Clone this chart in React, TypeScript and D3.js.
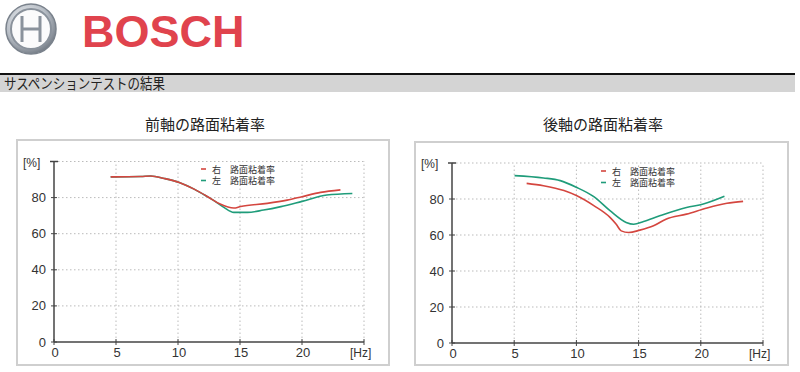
import React from "react";
import * as d3 from "d3";

const xTicks = [0, 5, 10, 15, 20];
const yTicks = [0, 20, 40, 60, 80];
const legendLabels = ["右　路面粘着率", "左　路面粘着率"];
const titles = ["前軸の路面粘着率", "後軸の路面粘着率"];

const frontRightHz = [4.57, 7.0, 7.8, 8.9, 10.1, 11.3, 12.4, 13.4, 14.5, 15.05, 17.2, 18.8, 20.0, 21.5, 23.1];
const frontRightVal = [91.5, 91.7, 92.0, 90.6, 88.4, 84.7, 80.5, 76.4, 74.2, 75.1, 76.8, 78.6, 80.5, 82.9, 84.3];
const frontLeftHz = [4.57, 7.0, 7.8, 8.9, 10.1, 11.3, 12.3, 12.9, 13.7, 14.5, 15.6, 16.9, 18.3, 20.0, 22.0, 24.06];
const frontLeftVal = [91.5, 91.7, 92.0, 90.6, 88.4, 84.7, 80.8, 78.3, 74.6, 71.8, 71.8, 73.1, 75.0, 77.9, 81.4, 82.3];

const rearRightHz = [6.0, 7.35, 9.0, 10.0, 11.4, 12.7, 13.2, 13.6, 14.2, 15.1, 16.2, 17.2, 18.85, 20.5, 22.1, 23.4];
const rearRightVal = [88.7, 87.4, 84.7, 81.9, 76.3, 69.8, 66.0, 62.3, 61.4, 62.7, 65.1, 68.8, 71.6, 75.0, 77.6, 78.7];
const rearLeftHz = [5.03, 7.35, 8.7, 10.0, 11.4, 12.7, 14.0, 14.6, 15.4, 16.7, 18.85, 20.2, 21.9];
const rearLeftVal = [93.0, 91.7, 90.2, 86.5, 81.3, 73.5, 67.0, 66.0, 67.5, 70.7, 75.3, 77.2, 81.5];

const RED = "#d4463f";
const GREEN = "#1f9c7a";

const zip = (xs: number[], ys: number[]) => xs.map((x, i) => [x, ys[i]] as [number, number]);

type PanelProps = {
  box: [number, number, number, number];
  xr: [number, number];
  yr: [number, number];
  title: string;
  titleX: number;
  legendX: number;
  legendY: number;
  right: [number, number][];
  left: [number, number][];
};

function Panel(p: PanelProps) {
  const x = d3.scaleLinear().domain([0, 25]).range(p.xr);
  const y = d3.scaleLinear().domain([0, 100]).range(p.yr);
  const line = d3
    .line<[number, number]>()
    .x((d) => x(d[0]))
    .y((d) => y(d[1]))
    .curve(d3.curveMonotoneX);
  const [bx, by, bw, bh] = p.box;
  const num = "'Liberation Sans', Arial, sans-serif";
  const jp = "'Noto Sans CJK JP', sans-serif";
  return (
    <g>
      <text x={p.titleX} y={130} textAnchor="middle" fontFamily={jp} fontSize={15} fill="#222">
        {p.title}
      </text>
      <rect x={bx} y={by} width={bw} height={bh} fill="#fff" stroke="#cfcfcf" strokeWidth={2} />
      {[5, 10, 15, 20, 25].map((t) => (
        <line key={"gx" + t} x1={x(t)} x2={x(t)} y1={y(0)} y2={y(100)} stroke="#bbb" strokeWidth={1} strokeDasharray="1.5,2.5" />
      ))}
      {[20, 40, 60, 80, 100].map((t) => (
        <line key={"gy" + t} x1={x(0)} x2={x(25)} y1={y(t)} y2={y(t)} stroke="#bbb" strokeWidth={1} strokeDasharray="1.5,2.5" />
      ))}
      <line x1={x(0)} x2={x(0)} y1={y(0)} y2={y(100)} stroke="#444" strokeWidth={1.5} />
      <line x1={x(0) - 4} x2={x(0) + 4} y1={y(100)} y2={y(100)} stroke="#444" strokeWidth={1.5} />
      <line x1={x(0)} x2={x(25)} y1={y(0)} y2={y(0)} stroke="#444" strokeWidth={1.5} />
      {[...xTicks, 25].map((t) => (
        <line key={"tx" + t} x1={x(t)} x2={x(t)} y1={y(0) - 3} y2={y(0) + 3} stroke="#444" strokeWidth={1} />
      ))}
      {yTicks.map((t) => (
        <line key={"ty" + t} x1={x(0) - 3} x2={x(0) + 3} y1={y(t)} y2={y(t)} stroke="#444" strokeWidth={1} />
      ))}
      {yTicks.map((t) => (
        <text key={"ly" + t} x={x(0) - 8} y={y(t) + 4.5} textAnchor="end" fontFamily={num} fontSize={13} fill="#333">
          {t}
        </text>
      ))}
      {xTicks.map((t) => (
        <text key={"lx" + t} x={x(t) + 1} y={y(0) + 15} textAnchor="middle" fontFamily={num} fontSize={13} fill="#333">
          {t}
        </text>
      ))}
      <text x={x(0) - 31} y={y(100) + 5} fontFamily={num} fontSize={12} fill="#333">[%]</text>
      <text x={x(25) - 14} y={y(0) + 15} fontFamily={num} fontSize={12} fill="#333">[Hz]</text>
      <path d={line(p.left) || ""} fill="none" stroke={GREEN} strokeWidth={1.6} />
      <path d={line(p.right) || ""} fill="none" stroke={RED} strokeWidth={1.6} />
      <line x1={p.legendX} x2={p.legendX + 5} y1={p.legendY} y2={p.legendY} stroke={RED} strokeWidth={1.6} />
      <line x1={p.legendX} x2={p.legendX + 5} y1={p.legendY + 11.5} y2={p.legendY + 11.5} stroke={GREEN} strokeWidth={1.6} />
      <text x={p.legendX + 11} y={p.legendY + 3.5} fontFamily={jp} fontSize={9} fill="#333">{legendLabels[0]}</text>
      <text x={p.legendX + 11} y={p.legendY + 15} fontFamily={jp} fontSize={9} fill="#333">{legendLabels[1]}</text>
    </g>
  );
}

export default function App() {
  return (
    <svg width={800} height={372} style={{ position: "absolute", left: 0, top: 0, background: "#fff" }}>
      <defs>
        <radialGradient id="logoG" cx="40%" cy="35%" r="70%">
          <stop offset="0%" stopColor="#f4f6f8" />
          <stop offset="60%" stopColor="#b8bec6" />
          <stop offset="100%" stopColor="#6e7680" />
        </radialGradient>
      </defs>
      <rect x={0} y={0} width={800} height={372} fill="#fff" />
      {/* logo */}
      <circle cx={31} cy={29} r={25} fill="url(#logoG)" stroke="#7a828c" strokeWidth={1.5} />
      <circle cx={31} cy={29} r={20} fill="#fbfbfc" stroke="#8a929c" strokeWidth={2} />
      <path d="M22,16 L22,42 M40,16 L40,42 M22,29 L40,29" stroke="#8a929c" strokeWidth={3} fill="none" />
      <text x={82} y={47} fontFamily="'Liberation Sans', Arial, sans-serif" fontWeight="bold" fontSize={45} fill="#e0434d">
        BOSCH
      </text>
      {/* section header */}
      <rect x={0} y={75} width={795} height={17} fill="#d4d4d4" />
      <line x1={0} x2={795} y1={74} y2={74} stroke="#111" strokeWidth={2} />
      <text x={4} y={89} fontFamily="'Noto Sans CJK JP', sans-serif" fontSize={14.5} fill="#222" textLength={161} lengthAdjust="spacingAndGlyphs">
        サスペンションテストの結果
      </text>
      <Panel
        box={[17, 140, 372, 225]}
        xr={[54, 364]}
        yr={[342, 161.5]}
        title={titles[0]}
        titleX={205}
        legendX={201}
        legendY={169}
        right={zip(frontRightHz, frontRightVal)}
        left={zip(frontLeftHz, frontLeftVal)}
      />
      <Panel
        box={[415, 142, 373, 223]}
        xr={[452, 763]}
        yr={[343, 163]}
        title={titles[1]}
        titleX={603}
        legendX={601}
        legendY={171}
        right={zip(rearRightHz, rearRightVal)}
        left={zip(rearLeftHz, rearLeftVal)}
      />
    </svg>
  );
}
